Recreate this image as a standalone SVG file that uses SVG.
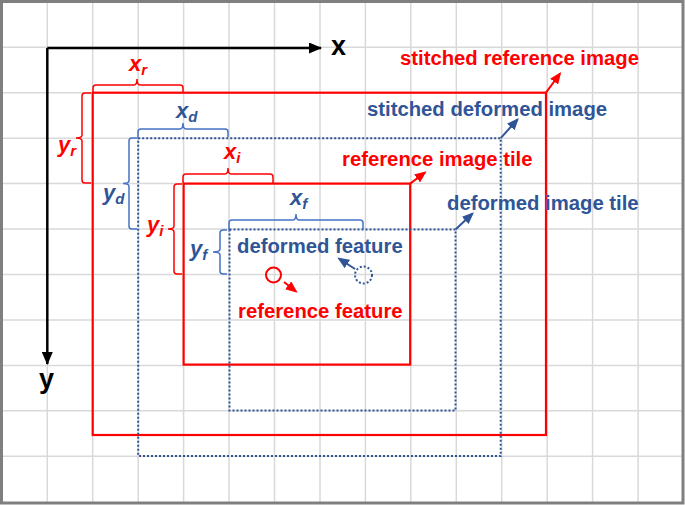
<svg xmlns="http://www.w3.org/2000/svg" width="685" height="505" viewBox="0 0 685 505">
<style>
.grid line{stroke:#D9D9D9;stroke-width:1.5}
.lbl{font-family:"Liberation Sans",Arial,sans-serif;font-weight:bold;font-size:20.3px}
.math{font-family:"Liberation Sans",Arial,sans-serif;font-weight:bold;font-style:italic;font-size:22px}
.axis{font-family:"Liberation Sans",Arial,sans-serif;font-weight:bold;font-size:27px;fill:#000}
.red{fill:#FF0000}
.blue{fill:#2F5597}
.rrect{fill:none;stroke:#FF0000;stroke-width:2.2}
.brect{fill:none;stroke:#2F5597;stroke-width:2;stroke-dasharray:2 2}
.rbrace{fill:none;stroke:#FF0000;stroke-width:1.5}
.bbrace{fill:none;stroke:#4472C4;stroke-width:1.5}
</style>
<defs>
<marker id="ahr" viewBox="0 0 12 10" refX="10" refY="5" markerWidth="12" markerHeight="10" markerUnits="userSpaceOnUse" orient="auto"><path d="M0,0 L12,5 L0,10 z" fill="#FF0000"/></marker>
<marker id="ahb" viewBox="0 0 12 10" refX="10" refY="5" markerWidth="12" markerHeight="10" markerUnits="userSpaceOnUse" orient="auto"><path d="M0,0 L12,5 L0,10 z" fill="#2F5597"/></marker>
<marker id="ahk" viewBox="0 0 13 11" refX="12" refY="5.5" markerWidth="13" markerHeight="11" markerUnits="userSpaceOnUse" orient="auto"><path d="M0,0 L13,5.5 L0,11 z" fill="#000"/></marker>
</defs>
<rect x="0" y="0" width="685" height="505" fill="#FFFFFF"/>
<g class="grid">
<line x1="47.3" y1="2" x2="47.3" y2="503"/><line x1="92.7" y1="2" x2="92.7" y2="503"/><line x1="138.2" y1="2" x2="138.2" y2="503"/><line x1="183.6" y1="2" x2="183.6" y2="503"/><line x1="229" y1="2" x2="229" y2="503"/><line x1="274.5" y1="2" x2="274.5" y2="503"/><line x1="320" y1="2" x2="320" y2="503"/><line x1="365.4" y1="2" x2="365.4" y2="503"/><line x1="410.8" y1="2" x2="410.8" y2="503"/><line x1="456.3" y1="2" x2="456.3" y2="503"/><line x1="501.7" y1="2" x2="501.7" y2="503"/><line x1="547.2" y1="2" x2="547.2" y2="503"/><line x1="592.6" y1="2" x2="592.6" y2="503"/><line x1="638.1" y1="2" x2="638.1" y2="503"/>
<line x1="2" y1="47.3" x2="683" y2="47.3"/><line x1="2" y1="92.7" x2="683" y2="92.7"/><line x1="2" y1="138.2" x2="683" y2="138.2"/><line x1="2" y1="183.6" x2="683" y2="183.6"/><line x1="2" y1="229" x2="683" y2="229"/><line x1="2" y1="274.5" x2="683" y2="274.5"/><line x1="2" y1="320" x2="683" y2="320"/><line x1="2" y1="365.4" x2="683" y2="365.4"/><line x1="2" y1="410.8" x2="683" y2="410.8"/><line x1="2" y1="456.3" x2="683" y2="456.3"/>
</g>
<rect x="1.5" y="1.5" width="681.5" height="501.5" fill="none" stroke="#7F7F7F" stroke-width="3"/>

<g id="axes">
<line x1="47.3" y1="48" x2="321" y2="48" stroke="#000" stroke-width="2.5" marker-end="url(#ahk)"/>
<line x1="47.3" y1="48" x2="47.3" y2="364" stroke="#000" stroke-width="2.5" marker-end="url(#ahk)"/>
<text class="axis" x="331" y="55">x</text>
<text class="axis" x="39" y="388">y</text>
</g>

<g id="stitched-reference-image">
<rect class="rrect" x="92.7" y="92.7" width="453.3" height="342.3"/>
<text class="lbl red" x="400" y="65">stitched reference image</text>
<path class="rbrace" d="M93,92 V88 Q93,85 96,85 H134 Q137,85 137,79 Q137,85 140,85 H180 Q183,85 183,88 V92"/>
<text class="math red" x="129" y="71">x<tspan font-size="15" dy="4">r</tspan></text>
<path class="rbrace" d="M91,93 H85 Q82,93 82,96 V135 Q82,138 76,138 Q82,138 82,141 V180 Q82,183 85,183 H91"/>
<text class="math red" x="58" y="152">y<tspan font-size="15" dy="4">r</tspan></text>
</g>

<g id="stitched-deformed-image">
<rect class="brect" x="138.2" y="138.2" width="362.5" height="317.8"/>
<text class="lbl blue" x="367" y="116">stitched deformed image</text>
<path class="bbrace" d="M138,137 V132 Q138,129 141,129 H180 Q183,129 183,123 Q183,129 186,129 H225 Q228,129 228,132 V137"/>
<text class="math blue" x="176" y="118">x<tspan font-size="15" dy="4">d</tspan></text>
<path class="bbrace" d="M137,138 H132 Q129,138 129,141 V180.5 Q129,183.5 123,183.5 Q129,183.5 129,186.5 V226 Q129,229 132,229 H137"/>
<text class="math blue" x="103" y="200">y<tspan font-size="15" dy="4">d</tspan></text>
</g>

<g id="reference-image-tile">
<rect class="rrect" x="183.6" y="183.6" width="226.6" height="181"/>
<text class="lbl red" x="342" y="166">reference image tile</text>
<path class="rbrace" d="M183,183 V177 Q183,174 186,174 H225 Q228,174 228,168 Q228,174 231,174 H270 Q273,174 273,177 V183"/>
<text class="math red" x="224" y="159">x<tspan font-size="15" dy="4">i</tspan></text>
<path class="rbrace" d="M182,184 H177 Q174,184 174,187 V226 Q174,229 168,229 Q174,229 174,232 V271 Q174,274 177,274 H182"/>
<text class="math red" x="147" y="232">y<tspan font-size="15" dy="4">i</tspan></text>
</g>

<g id="deformed-image-tile">
<rect class="brect" x="229.5" y="229.5" width="226" height="181"/>
<text class="lbl blue" x="447" y="210">deformed image tile</text>
<path class="bbrace" d="M229,229 V223 Q229,220 232,220 H293 Q296,220 296,214 Q296,220 299,220 H360 Q363,220 363,223 V229"/>
<text class="math blue" x="290" y="205">x<tspan font-size="15" dy="4">f</tspan></text>
<path class="bbrace" d="M227,230 H223 Q220,230 220,233 V249 Q220,252 213,252 Q220,252 220,255 V271 Q220,274 223,274 H227"/>
<text class="math blue" x="190" y="256">y<tspan font-size="15" dy="4">f</tspan></text>
</g>

<g id="deformed-feature">
<circle cx="363.5" cy="275" r="8.5" fill="none" stroke="#2F5597" stroke-width="2" stroke-dasharray="2 2"/>
<text class="lbl blue" x="237" y="253">deformed feature</text>
</g>

<g id="reference-feature">
<circle cx="273.5" cy="275" r="7.5" fill="none" stroke="#FF0000" stroke-width="2"/>
<text class="lbl red" x="238" y="318">reference feature</text>
</g>

<g id="connectors" stroke-width="2" fill="none">
<line x1="546" y1="92.7" x2="560" y2="73.5" stroke="#FF0000" marker-end="url(#ahr)"/>
<line x1="500.7" y1="138.2" x2="517.5" y2="119.5" stroke="#2F5597" marker-end="url(#ahb)"/>
<line x1="410.2" y1="183.6" x2="425" y2="172.5" stroke="#FF0000" marker-end="url(#ahr)"/>
<line x1="455.5" y1="229.5" x2="472.5" y2="213.5" stroke="#2F5597" marker-end="url(#ahb)"/>
<line x1="284" y1="282" x2="296" y2="291.5" stroke="#FF0000" marker-end="url(#ahr)"/>
<line x1="355" y1="269" x2="339" y2="258.5" stroke="#2F5597" marker-end="url(#ahb)"/>
</g>
</svg>
